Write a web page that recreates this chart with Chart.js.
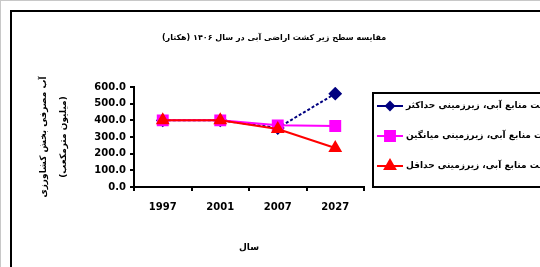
<!DOCTYPE html>
<html>
<head>
<meta charset="utf-8">
<script src="https://cdn.jsdelivr.net/npm/chart.js@4.4.0/dist/chart.umd.min.js"></script>
<style>
  html, body { margin: 0; padding: 0; background: #fff; }
  #wrap { width: 540px; height: 267px; position: relative; }
</style>
</head>
<body>
<div id="wrap"><canvas id="c" width="540" height="267"></canvas></div>
<script>
// data
const years = ['1997', '2001', '2007', '2027'];
const maxCase = [400, 400, 354, 560];
const meanCase = [400, 400, 370, 366];
const minCase = [400, 400, 348, 234];
const seriesNames = [
  'میزان برداشت منابع آبی، زیرزمینی حداکثر',
  'میزان برداشت منابع آبی، زیرزمینی میانگین',
  'میزان برداشت منابع آبی، زیرزمینی حداقل'
];
const chartTitle = 'مقایسه سطح زیر کشت اراضی آبی در سال ۱۴۰۶ (هکتار)';
const yTitle = ['آب مصرفی بخش کشاورزی', '(میلیون مترمکعب)'];
const xTitle = 'سال';

const FONT = "'DejaVu Sans', 'Liberation Sans', Arial, sans-serif";

const frame = {
  id: 'frame',
  beforeDraw(chart) {
    const ctx = chart.ctx;
    ctx.save();
    ctx.fillStyle = '#fff';
    ctx.fillRect(0, 0, chart.width, chart.height);
    ctx.strokeStyle = '#c8c8c8';
    ctx.lineWidth = 1;
    ctx.strokeRect(0.5, 0.5, chart.width + 10, chart.height + 10);
    ctx.strokeStyle = '#000';
    ctx.lineWidth = 2;
    ctx.strokeRect(11, 11, chart.width + 20, chart.height + 20);
    // chart title
    ctx.fillStyle = '#000';
    ctx.font = `bold 8px ${FONT}`;
    ctx.textAlign = 'center';
    ctx.textBaseline = 'middle';
    ctx.fillText(chartTitle, 274, 38);
    ctx.restore();
  },
  afterDraw(chart) {
    const ctx = chart.ctx;
    ctx.save();
    ctx.strokeStyle = '#000';
    ctx.lineWidth = 2;
    ctx.strokeRect(373, 93, 200, 94);
    chart.data.datasets.forEach((ds, i) => {
      const y = 106 + i * 30;
      ctx.strokeStyle = ds.borderColor;
      ctx.lineWidth = 2;
      ctx.setLineDash([]);
      ctx.beginPath();
      ctx.moveTo(377, y);
      ctx.lineTo(403, y);
      ctx.stroke();
      ctx.fillStyle = ds.backgroundColor;
      Chart.helpers.drawPoint(ctx, {
        pointStyle: ds.pointStyle, radius: ds.legendRadius, borderWidth: 1
      }, 390, y);
      ctx.fillStyle = '#000';
      ctx.font = `bold 9px ${FONT}`;
      ctx.textAlign = 'left';
      ctx.textBaseline = 'middle';
      ctx.fillText(ds.label, 406, y);
    });
    ctx.restore();
  }
};

new Chart(document.getElementById('c'), {
  type: 'line',
  data: {
    labels: years,
    datasets: [
      {
        label: seriesNames[0], data: maxCase, order: 2,
        borderColor: '#000080', backgroundColor: '#000080',
        borderWidth: 2, borderDash: [3, 2],
        pointStyle: 'rectRot', pointRadius: 5.5, legendRadius: 4
      },
      {
        label: seriesNames[1], data: meanCase, order: 1,
        borderColor: '#ff00ff', backgroundColor: '#ff00ff',
        borderWidth: 2,
        pointStyle: 'rect', pointRadius: 7, legendRadius: 7
      },
      {
        label: seriesNames[2], data: minCase, order: 0,
        borderColor: '#ff0000', backgroundColor: '#ff0000',
        borderWidth: 2,
        pointStyle: 'triangle', pointRadius: 6, legendRadius: 6
      }
    ]
  },
  options: {
    responsive: false,
    animation: false,
    devicePixelRatio: 1,
    layout: { padding: { top: 87, right: 176, bottom: 0, left: 0 } },
    plugins: {
      legend: { display: false },
      tooltip: { enabled: false },
      title: { display: false }
    },
    elements: {
      line: { tension: 0 },
      point: { borderWidth: 1 }
    },
    scales: {
      x: {
        offset: true,
        afterFit: s => { s.height = 80; },
        border: { color: '#000', width: 2 },
        grid: { offset: true, drawOnChartArea: false, drawTicks: true, tickLength: 4, color: '#000', lineWidth: 2 },
        ticks: { color: '#000', padding: 10, font: { family: FONT, size: 10, weight: 'bold' }, maxRotation: 0 },
        title: {
          display: true, text: xTitle, color: '#000',
          padding: { top: 0, bottom: 14 },
          font: { family: FONT, size: 9, weight: 'bold' }
        }
      },
      y: {
        min: 0, max: 600,
        afterFit: s => { s.width = 134; },
        border: { color: '#000', width: 2 },
        grid: { drawOnChartArea: false, drawTicks: true, tickLength: 4, color: '#000', lineWidth: 2 },
        ticks: {
          stepSize: 100, color: '#000', padding: 4,
          font: { family: FONT, size: 10, weight: 'bold' },
          callback: v => Number(v).toFixed(1)
        },
        title: {
          display: true, text: yTitle, color: '#000',
          padding: { top: 34, bottom: 0 },
          font: { family: FONT, size: 9, weight: 'bold', lineHeight: 2.22 }
        }
      }
    }
  },
  plugins: [frame]
});
</script>
</body>
</html>
